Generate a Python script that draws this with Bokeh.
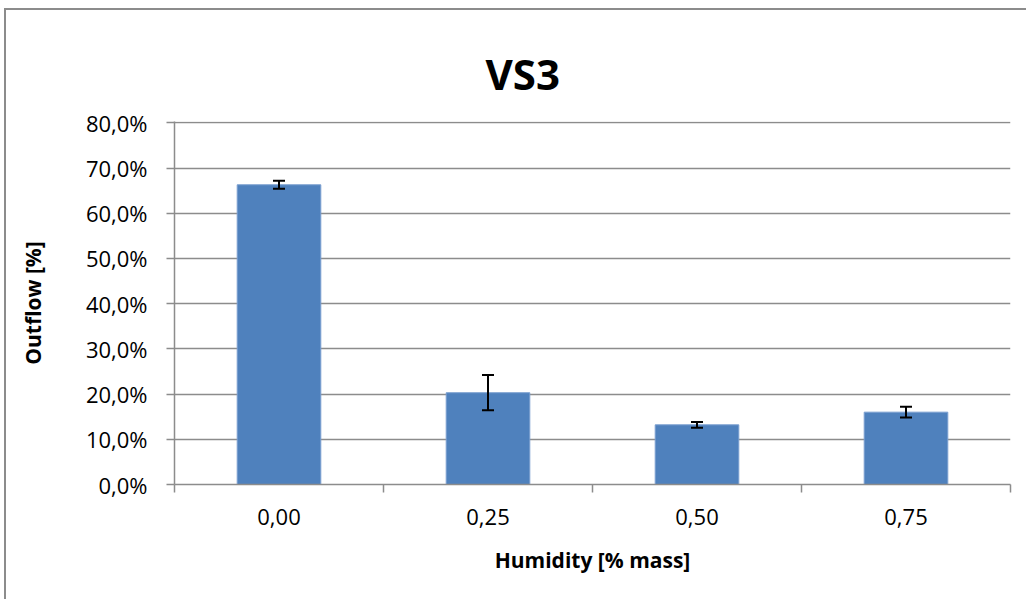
from bokeh.plotting import figure
from bokeh.models import Range1d, FixedTicker, Whisker, TeeHead, ColumnDataSource
from bokeh.embed import file_html
from bokeh.resources import INLINE

# ---- data ----
categories = ["0,00", "0,25", "0,50", "0,75"]
outflow = [66.3, 20.3, 13.2, 16.0]          # %
outflow_err = [0.9, 3.9, 0.65, 1.2]         # % (+/-)
y_ticks = [0, 10, 20, 30, 40, 50, 60, 70, 80]
y_tick_labels = ["0,0%", "10,0%", "20,0%", "30,0%", "40,0%", "50,0%", "60,0%", "70,0%", "80,0%"]
title_text = "VS3"
x_title = "Humidity [% mass]"
y_title = "Outflow [%]"

FONT = "Open Sans"
GREY = "#8c8c8c"
BLUE = "#4F81BD"

centers = [i + 0.5 for i in range(len(categories))]
bounds = list(range(len(categories) + 1))

src = ColumnDataSource(dict(
    x=centers,
    y=outflow,
    upper=[v + e for v, e in zip(outflow, outflow_err)],
    lower=[v - e for v, e in zip(outflow, outflow_err)],
))

W, H = 1022, 591
p = figure(width=W, height=H, output_backend="svg", toolbar_location=None,
           x_range=Range1d(0, len(categories)), y_range=Range1d(0, 80.3),
           min_border_left=168, min_border_right=18, min_border_top=111, min_border_bottom=117)
p.styles = {"border-top": "2px solid #8c8c8c", "border-left": "2px solid #8c8c8c",
            "margin-left": "4px", "margin-top": "8px"}
p.outline_line_color = None
p.background_fill_color = "white"
p.border_fill_color = "white"

p.vbar(x="x", top="y", width=0.4, bottom=0, source=src,
       fill_color=BLUE, line_color="#7a9fd0", line_width=1)

w = Whisker(base="x", upper="upper", lower="lower", source=src,
            line_color="black", line_width=2, level="overlay",
            upper_head=TeeHead(size=12, line_color="black", line_width=2),
            lower_head=TeeHead(size=12, line_color="black", line_width=2))
p.add_layout(w)

# title
p.title.text = title_text
p.title.align = "left"
p.title.offset = 311
p.title.vertical_align = "top"
p.title.standoff = 35
p.title.text_font = FONT
p.title.text_font_size = "42px"
p.title.text_font_style = "bold"
p.title.text_color = "black"

# grid
p.xgrid.visible = False
p.ygrid.ticker = FixedTicker(ticks=y_ticks)
p.ygrid.grid_line_color = GREY
p.ygrid.grid_line_width = 1.5

# y axis
ya = p.yaxis[0]
ya.ticker = FixedTicker(ticks=y_ticks)
ya.major_label_overrides = {t: l for t, l in zip(y_ticks, y_tick_labels)}
ya.major_tick_out = 8
ya.major_tick_in = 0
ya.minor_tick_line_color = None
ya.major_tick_line_color = GREY
ya.major_tick_line_width = 1.5
ya.axis_line_color = GREY
ya.axis_line_width = 1.5
ya.major_label_text_font = FONT
ya.major_label_text_font_size = "22px"
ya.major_label_text_color = "black"
ya.major_label_standoff = 19
ya.axis_label = y_title
ya.axis_label_text_font = FONT
ya.axis_label_text_font_size = "21px"
ya.axis_label_text_font_style = "bold"
ya.axis_label_text_color = "black"
ya.axis_label_standoff = 36

# x axis
xa = p.xaxis[0]
xa.ticker = FixedTicker(ticks=centers, minor_ticks=bounds)
xa.major_label_overrides = {c: l for c, l in zip(centers, categories)}
xa.major_tick_line_color = None
xa.major_tick_out = 0
xa.major_tick_in = 0
xa.minor_tick_out = 8
xa.minor_tick_in = 0
xa.minor_tick_line_color = GREY
xa.minor_tick_line_width = 1.5
xa.axis_line_color = GREY
xa.axis_line_width = 1.5
xa.major_label_text_font = FONT
xa.major_label_text_font_size = "22px"
xa.major_label_text_color = "black"
xa.major_label_standoff = 16
xa.axis_label = x_title
xa.axis_label_text_font = FONT
xa.axis_label_text_font_size = "21px"
xa.axis_label_text_font_style = "bold"
xa.axis_label_text_color = "black"
xa.axis_label_standoff = 18

open("out.html", "w").write(file_html(p, INLINE))
